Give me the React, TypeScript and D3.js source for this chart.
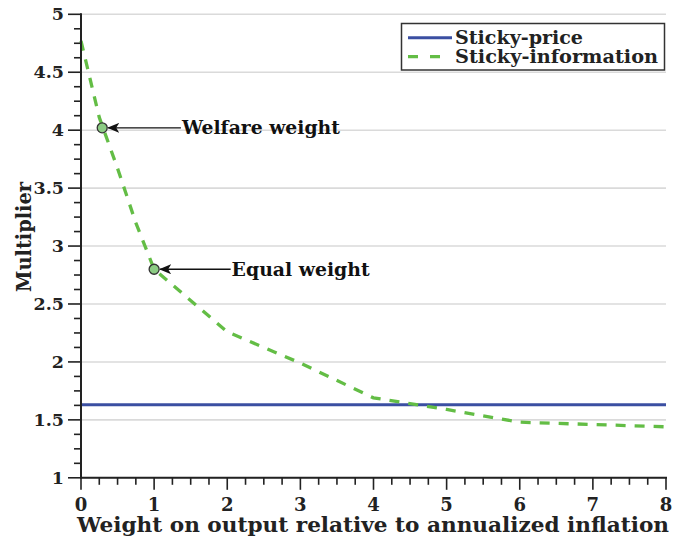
import React from "react";
import * as d3 from "d3";

const xValues = [0, 0.25, 0.5, 0.75, 1, 2, 3, 4, 5, 6, 7, 8];
const stickyInfo = [4.77, 4.11, 3.67, 3.2, 2.8, 2.26, 1.99, 1.69, 1.59, 1.48, 1.46, 1.44];
const stickyPrice = 1.63;
const xTicks = [0, 1, 2, 3, 4, 5, 6, 7, 8];
const yTicks = [1, 1.5, 2, 2.5, 3, 3.5, 4, 4.5, 5];
const annotations = [
  { label: "Welfare weight", x: 0.29, y: 4.02, textX: 1.38, len: 158 },
  { label: "Equal weight", x: 1.0, y: 2.8, textX: 2.06, len: 138 },
];
const legendItems = [
  { label: "Sticky-price", len: 128 },
  { label: "Sticky-information", len: 203 },
];

const W = 675;
const H = 542;
const FONT = "'DejaVu Serif', serif";

export default function App() {
  const x = d3.scaleLinear().domain([0, 8]).range([81, 666]);
  const y = d3.scaleLinear().domain([1, 5]).range([477.8, 14.3]);
  const line = d3
    .line<number>()
    .x((_, i) => x(xValues[i]))
    .y((d) => y(d));
  const xMinor = d3.range(0, 8.001, 0.25);
  const yMinor = d3.range(1, 5.001, 0.125);
  const axisColor = "#222";
  const blue = "#3b4fa2";
  const green = "#63bd45";
  return (
    <svg width={W} height={H} style={{ position: "absolute", left: 0, top: 0 }}>
      <defs>
        <marker id="arr" viewBox="0 0 12 10" refX="11" refY="5" markerWidth="12" markerHeight="10" markerUnits="userSpaceOnUse" orient="auto">
          <path d="M0,0 L12,5 L0,10 L3,5 Z" fill="#111" />
        </marker>
      </defs>
      <rect width={W} height={H} fill="#fff" />
      {yTicks.map((t) => (
        <line key={"g" + t} x1={x(0)} x2={x(8)} y1={y(t)} y2={y(t)} stroke="#dadada" strokeWidth={1.6} />
      ))}
      <line x1={x(0)} x2={x(8)} y1={y(stickyPrice)} y2={y(stickyPrice)} stroke={blue} strokeWidth={3} />
      <path d={line(stickyInfo) || ""} fill="none" stroke={green} strokeWidth={3.3} strokeDasharray="10,9" />
      <line x1={x(0)} x2={x(0)} y1={y(5) - 1} y2={y(1) + 1} stroke={axisColor} strokeWidth={2} />
      <line x1={x(0) - 1} x2={x(8) + 1} y1={y(1)} y2={y(1)} stroke={axisColor} strokeWidth={2} />
      {yMinor.map((t, i) => (
        <line key={"ym" + i} x1={x(0)} x2={x(0) - (i % 4 === 0 ? 13 : 7)} y1={y(t)} y2={y(t)} stroke={axisColor} strokeWidth={1.6} />
      ))}
      {xMinor.map((t, i) => (
        <line key={"xm" + i} x1={x(t)} x2={x(t)} y1={y(1)} y2={y(1) + (i % 4 === 0 ? 12 : 7)} stroke={axisColor} strokeWidth={1.6} />
      ))}
      {yTicks.map((t) => (
        <text key={"yl" + t} x={64} y={y(t) + 6} textAnchor="end" fontFamily={FONT} fontWeight="bold" fontSize={17.5} fill="#222">
          {t}
        </text>
      ))}
      {xTicks.map((t) => (
        <text key={"xl" + t} x={x(t)} y={510.5} textAnchor="middle" fontFamily={FONT} fontWeight="bold" fontSize={18} fill="#222">
          {t}
        </text>
      ))}
      <text x={373} y={531.5} textAnchor="middle" fontFamily={FONT} fontWeight="bold" fontSize={20} fill="#222" textLength={592} lengthAdjust="spacingAndGlyphs">
        Weight on output relative to annualized inflation
      </text>
      <text transform={`translate(31,237) rotate(-90)`} textAnchor="middle" fontFamily={FONT} fontWeight="bold" fontSize={20} fill="#222" textLength={110} lengthAdjust="spacingAndGlyphs">
        Multiplier
      </text>
      {annotations.map((a) => (
        <g key={a.label}>
          <line x1={x(a.textX) - 1} x2={x(a.x) + 6} y1={y(a.y)} y2={y(a.y)} stroke="#111" strokeWidth={1.3} markerEnd="url(#arr)" />
          <circle cx={x(a.x)} cy={y(a.y)} r={5} fill="#8ccc84" stroke="#333" strokeWidth={1.3} />
          <text x={x(a.textX)} y={y(a.y) + 6.5} fontFamily={FONT} fontWeight="bold" fontSize={18} fill="#111" textLength={a.len} lengthAdjust="spacingAndGlyphs">
            {a.label}
          </text>
        </g>
      ))}
      <rect x={401.5} y={23.5} width={263} height={46.5} fill="#fff" stroke="#333" strokeWidth={1.5} />
      <line x1={408} x2={452} y1={37.7} y2={37.7} stroke={blue} strokeWidth={3} />
      <line x1={408} x2={452} y1={56.7} y2={56.7} stroke={green} strokeWidth={3.3} strokeDasharray="10,12" />
      {legendItems.map((it, i) => (
        <text key={it.label} x={455} y={37.7 + i * 19 + 6} fontFamily={FONT} fontWeight="bold" fontSize={18} fill="#222" textLength={it.len} lengthAdjust="spacingAndGlyphs">
          {it.label}
        </text>
      ))}
    </svg>
  );
}
